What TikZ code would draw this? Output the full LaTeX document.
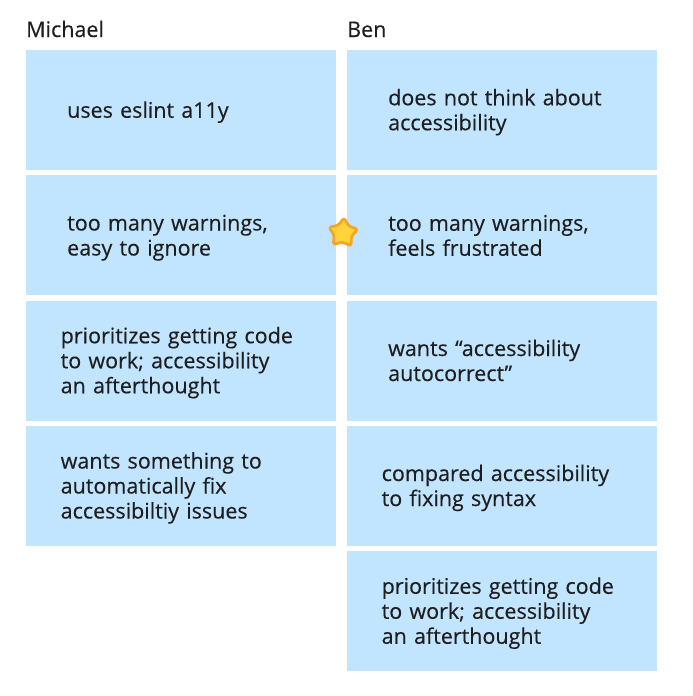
\documentclass[tikz,border=0pt]{standalone}
\usepackage{fontspec}
\setmainfont[FakeBold=0.3]{Open Sans}
\newcommand{\linetop}{\rule{0pt}{20.3pt}}
\newcommand{\linebottom}{\rule[-4.7pt]{0pt}{4.7pt}}
\usepackage{tikz}
\usetikzlibrary{matrix,shapes.geometric}
\definecolor{cardblue}{HTML}{C2E5FF}
\definecolor{inkblack}{HTML}{1E1E1E}
\definecolor{starfill}{HTML}{FFD43B}
\definecolor{starline}{HTML}{F5A623}

\begin{document}
\begin{tikzpicture}[x=1pt,y=-1pt,
		card/.style={fill=cardblue,minimum width=310pt,minimum height=120pt,anchor=center,align=left,text=inkblack,font=\fontsize{21.5}{25}\selectfont,text width=228pt,execute at begin node=\linetop,execute at end node=\linebottom},
		wide/.style={text width=241pt},
		header/.style={text=inkblack,font=\fontsize{21.5}{25}\selectfont,inner sep=0pt,anchor=base west}]
	\useasboundingbox (0,0) rectangle (693,696);
	\matrix (m) [matrix of nodes,row sep=5.25pt,column sep=11pt,inner sep=0pt,anchor=north west,nodes={card},ampersand replacement=\&] at (26,50)
	{
		{uses eslint a11y} \& {does not think about\\accessibility} \\
		{too many warnings,\\easy to ignore} \& {too many warnings,\\feels frustrated} \\
		|[wide]| {prioritizes getting code\\to work; accessibility\\an afterthought} \& {wants “accessibility\\autocorrect”} \\
		|[wide]| {wants something to\\automatically fix\\accessibiltiy issues} \& |[wide]| {compared accessibility\\to fixing syntax} \\
		\& |[wide]| {prioritizes getting code\\to work; accessibility\\an afterthought} \\};
	\node[header] (michael) at (26,37) {Michael};
	\node[header] (ben) at (347,37) {Ben};
	\node[star,star points=5,star point ratio=1.75,minimum size=31pt,inner sep=0pt,fill=starfill,draw=starline,line width=2.8pt,line join=round,rounded corners=3pt,rotate=-4] (star) at (343,233) {};
\end{tikzpicture}
\end{document}
